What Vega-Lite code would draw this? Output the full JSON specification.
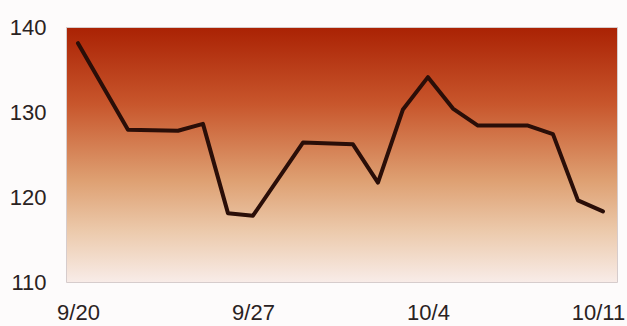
{
  "$schema": "https://vega.github.io/schema/vega-lite/v6.json",
  "width": 551,
  "height": 255,
  "autosize": "none",
  "padding": {"left": 66, "top": 27, "right": 10, "bottom": 44},
  "background": "#fdfbfb",
  "view": {
    "fill": {
      "gradient": "linear",
      "x1": 0, "y1": 0, "x2": 0, "y2": 1,
      "stops": [
        {"offset": 0, "color": "#aa2204"},
        {"offset": 0.3, "color": "#c8562c"},
        {"offset": 0.6, "color": "#dea072"},
        {"offset": 0.8, "color": "#eccaac"},
        {"offset": 1, "color": "#f8ece8"}
      ]
    },
    "stroke": "#d6cccc",
    "strokeWidth": 1
  },
  "data": {
    "values": [
      {"date": "1996-09-20", "value": 138.1},
      {"date": "1996-09-22", "value": 127.9},
      {"date": "1996-09-24", "value": 127.8},
      {"date": "1996-09-25", "value": 128.6},
      {"date": "1996-09-26", "value": 118.1},
      {"date": "1996-09-27", "value": 117.8},
      {"date": "1996-09-29", "value": 126.4},
      {"date": "1996-10-01", "value": 126.2},
      {"date": "1996-10-02", "value": 121.7},
      {"date": "1996-10-03", "value": 130.3},
      {"date": "1996-10-04", "value": 134.1},
      {"date": "1996-10-05", "value": 130.4},
      {"date": "1996-10-06", "value": 128.4},
      {"date": "1996-10-08", "value": 128.4},
      {"date": "1996-10-09", "value": 127.4},
      {"date": "1996-10-10", "value": 119.6},
      {"date": "1996-10-11", "value": 118.3}
    ]
  },
  "mark": {"type": "line", "color": "#2a0e08", "strokeWidth": 4, "strokeJoin": "round", "strokeCap": "round"},
  "encoding": {
    "x": {
      "field": "date",
      "type": "temporal",
      "scale": {"domain": ["1996-09-19T12:30:00", "1996-10-11T13:30:00"]},
      "axis": {
        "title": null,
        "values": ["1996-09-20", "1996-09-27", "1996-10-04", "1996-10-11"],
        "format": "%-m/%-d",
        "domain": false,
        "ticks": false,
        "grid": false,
        "labelFont": "Liberation Sans",
        "labelFontSize": 22,
        "labelColor": "#2a2222",
        "labelPadding": 20,
        "labelOverlap": false,
        "labelFlush": false,
        "labelOffset": {"condition": {"test": "datum.value > datetime(1996, 9, 10)", "value": -5}, "value": 0}
      }
    },
    "y": {
      "field": "value",
      "type": "quantitative",
      "scale": {"domain": [110, 140], "nice": false},
      "axis": {
        "title": null,
        "values": [110, 120, 130, 140],
        "domain": false,
        "ticks": false,
        "grid": false,
        "labelFont": "Liberation Sans",
        "labelFontSize": 22,
        "labelColor": "#2a2222",
        "labelPadding": 20
      }
    }
  }
}
